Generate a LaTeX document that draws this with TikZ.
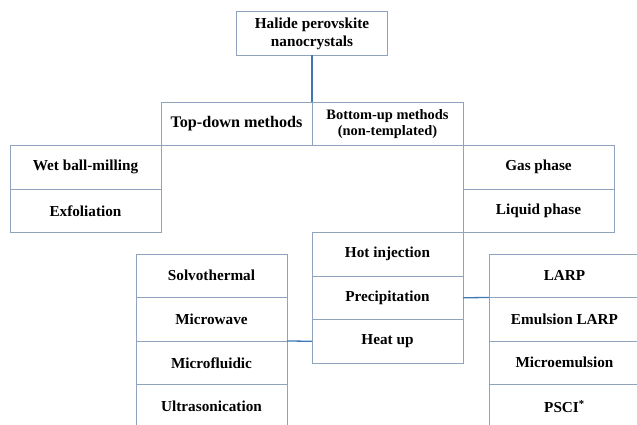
\documentclass[tikz,border=0pt]{standalone}
\usepackage{fontspec}
\setmainfont{Liberation Serif}
\usepackage{tikz}
\usetikzlibrary{positioning}
\definecolor{boxline}{HTML}{8FA3BC}
\definecolor{linkline}{HTML}{3D78B5}

\begin{document}
\begin{tikzpicture}[x=0.03cm, y=-0.03cm, node distance=0pt]
  \tikzstyle{cell}=[rectangle, draw=boxline, line width=0.8pt, align=center, outer sep=0pt,
    minimum width=4.53cm, minimum height=1.305cm, font=\fontsize{13}{15.5}\selectfont\bfseries]
  \tikzstyle{link}=[draw=linkline, line width=1.1pt]
  \useasboundingbox (0,0) rectangle (637,425);
  \clip (0,0) rectangle (637,425);
  % root and first split
  \node[cell] (root) at (312,33.5) {Halide perovskite\\nanocrystals};
  \node[cell, anchor=north east, font=\fontsize{13.8}{15}\selectfont\bfseries] (topdown) at (312,102) {Top-down methods};
  \node[cell, right=of topdown, font=\fontsize{12.3}{14}\selectfont\bfseries] (bottomup) {Bottom-up methods\\(non-templated)};
  % top-down branch
  \node[cell, anchor=north east] (wet) at (topdown.south west) {Wet ball-milling};
  \node[cell, below=of wet] (exfol) {Exfoliation};
  % bottom-up branch
  \node[cell, anchor=north west] (gas) at (bottomup.south east) {Gas phase};
  \node[cell, below=of gas] (liquid) {Liquid phase};
  \node[cell, anchor=north west] (hot) at (topdown.south east |- liquid.south) {Hot injection};
  \node[cell, below=of hot] (prec) {Precipitation};
  \node[cell, below=of prec] (heat) {Heat up};
  % heat up methods
  \node[cell, anchor=north east] (solvo) at (287,254) {Solvothermal};
  \node[cell, below=of solvo] (micwave) {Microwave};
  \node[cell, below=of micwave] (micfluid) {Microfluidic};
  \node[cell, below=of micfluid] (ultra) {Ultrasonication};
  % precipitation methods
  \node[cell, anchor=north west] (larp) at (489,254) {LARP};
  \node[cell, below=of larp] (elarp) {Emulsion LARP};
  \node[cell, below=of elarp] (microemul) {Microemulsion};
  \node[cell, below=of microemul] (psci) {PSCI\textsuperscript{*}};
  % connectors
  \draw[link] (root.south) -- (topdown.north east);
  \draw[link] (prec.east) -- (larp.south west);
  \draw[link] (heat.west) -- (micwave.south east);
\end{tikzpicture}
\end{document}
